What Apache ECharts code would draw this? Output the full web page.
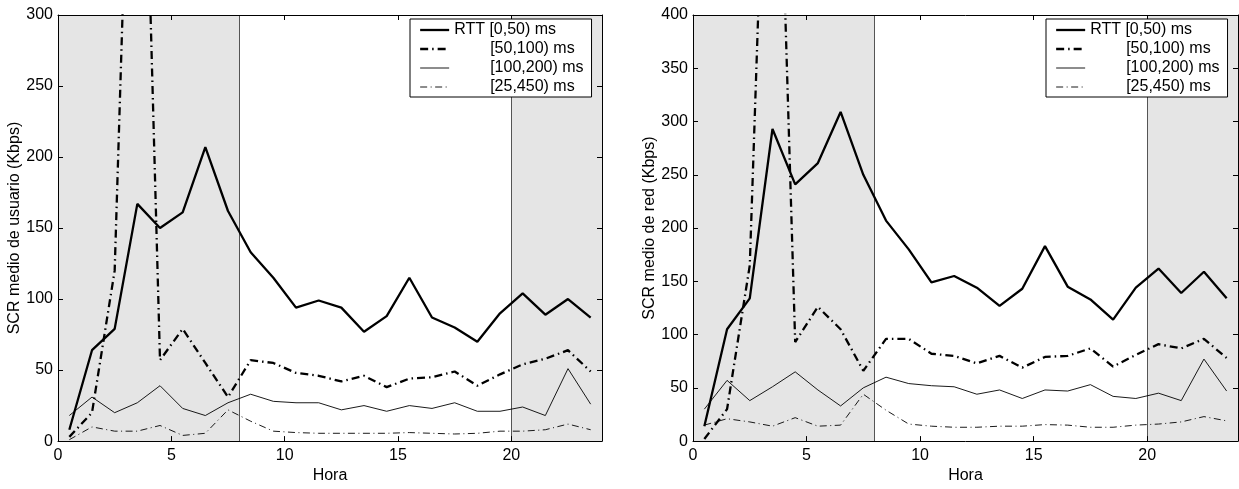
<!DOCTYPE html>
<html>
<head>
<meta charset="utf-8">
<script src="https://cdn.jsdelivr.net/npm/echarts@6/dist/echarts.min.js"></script>
<style>html,body{margin:0;padding:0;background:#fff;}#c{width:1239px;height:489px;}</style>
</head>
<body>
<div id="c"></div>
<script>
// ---- data ----
const hours = [0.5,1.5,2.5,3.5,4.5,5.5,6.5,7.5,8.5,9.5,10.5,11.5,12.5,13.5,14.5,15.5,16.5,17.5,18.5,19.5,20.5,21.5,22.5,23.5];
const seriesNames = ['RTT [0,50) ms', '[50,100) ms', '[100,200) ms', '[25,450) ms'];
// left panel: SCR medio de usuario (Kbps)
const usrRtt0   = [8, 64, 79, 167, 150, 161, 207, 162, 133, 115, 94, 99, 94, 77, 88, 115, 87, 80, 70, 90, 104, 89, 100, 87];
const usrRtt50  = [3, 20, 120, 640, 57, 79, 55, 31, 57, 55, 48, 46, 42, 46, 38, 44, 45, 49, 39, 47, 54, 58, 64, 49];
const usrRtt100 = [18, 31, 20, 27, 39, 23, 18, 27, 33, 28, 27, 27, 22, 25, 21, 25, 23, 27, 21, 21, 24, 18, 51, 26];
const usrRtt25  = [1, 10, 7, 7, 11, 4, 5.5, 22, 14, 7, 6, 5.5, 5.5, 5.5, 5.5, 6, 5.5, 5, 5.5, 7, 7, 8, 12, 8];
// right panel: SCR medio de red (Kbps)
const netRtt0   = [14, 105, 134, 293, 241, 261, 309, 250, 207, 180, 149, 155, 144, 127, 143, 183, 145, 133, 114, 144, 162, 139, 159, 134];
const netRtt50  = [2, 30, 165, 800, 93, 126, 105, 66, 96, 96, 82, 80, 73, 80, 69, 79, 80, 87, 70, 81, 91, 87, 96, 78];
const netRtt100 = [30, 57, 38, 51, 65, 48, 33, 50, 60, 54, 52, 51, 44, 48, 40, 48, 47, 53, 42, 40, 45, 38, 77, 47];
const netRtt25  = [15, 21, 18, 14, 22, 14, 15, 44, 29, 16, 14, 13, 13, 14, 14, 15.5, 15, 13, 13, 15, 16, 18, 23, 19];
// shaded (night) intervals and axis ranges
const shadedRanges = [[0, 8], [20, 24]];
const shadeEdges = [8, 20];
const xRange = [0, 24];
const usrYRange = [0, 300];
const netYRange = [0, 400];

const FONT = '"Liberation Sans", Arial, Helvetica, sans-serif';
const styles = [
  {color: '#000', width: 2.3, type: 'solid'},
  {color: '#000', width: 2.3, type: [8, 4, 1.5, 4]},
  {color: '#000', width: 0.9, type: 'solid'},
  {color: '#000', width: 0.9, type: [7, 3.5, 1, 3.5]}
];

function pairs(vals) { return hours.map((h, i) => [h, vals[i]]); }

function xAxes(grid) {
  const base = {
    gridIndex: grid, type: 'value', min: xRange[0], max: xRange[1], interval: 5, z: 10,
    axisLine: {show: true, onZero: false, lineStyle: {color: '#000', width: 1}},
    axisTick: {show: true, inside: true, length: 5, lineStyle: {color: '#000'}},
    splitLine: {show: false}
  };
  return [
    Object.assign({}, base, {
      position: 'bottom',
      axisLabel: {show: true, color: '#000', fontSize: 16, fontFamily: FONT, margin: 6, showMaxLabel: false},
      name: 'Hora', nameLocation: 'middle', nameGap: 22,
      nameTextStyle: {color: '#000', fontSize: 16, fontFamily: FONT}
    }),
    Object.assign({}, base, {position: 'top', axisLabel: {show: false}})
  ];
}
function yAxes(grid, range, name, gap) {
  const base = {
    gridIndex: grid, type: 'value', min: range[0], max: range[1], interval: 50, z: 10,
    axisLine: {show: true, onZero: false, lineStyle: {color: '#000', width: 1}},
    axisTick: {show: true, inside: true, length: 5, lineStyle: {color: '#000'}},
    splitLine: {show: false}
  };
  return [
    Object.assign({}, base, {
      position: 'left',
      axisLabel: {show: true, color: '#000', fontSize: 16, fontFamily: FONT, margin: 5},
      name: name, nameLocation: 'middle', nameGap: gap,
      nameTextStyle: {color: '#000', fontSize: 16, fontFamily: FONT}
    }),
    Object.assign({}, base, {position: 'right', axisLabel: {show: false}})
  ];
}

function panelSeries(dataArrs, xIdx, yIdx) {
  return dataArrs.map((vals, k) => {
    const s = {
      name: seriesNames[k], type: 'line', xAxisIndex: xIdx, yAxisIndex: yIdx,
      data: pairs(vals), showSymbol: false, symbol: 'none', clip: true,
      lineStyle: styles[k], itemStyle: {color: '#000'}, z: 5 - k, silent: true, animation: false
    };
    if (k === 0) {
      s.markArea = {
        silent: true, z: 1,
        itemStyle: {color: '#e5e5e5', opacity: 1, borderWidth: 0},
        data: shadedRanges.map(r => [{xAxis: r[0]}, {xAxis: r[1]}])
      };
      s.markLine = {
        silent: true, symbol: 'none', z: 2,
        label: {show: false},
        lineStyle: {color: '#555', width: 1, type: 'solid'},
        data: shadeEdges.map(e => ({xAxis: e}))
      };
    }
    return s;
  });
}

function legend(left) {
  return {
    data: seriesNames.map((n, k) => ({
      name: n,
      itemStyle: {opacity: 0, borderWidth: 0},
      lineStyle: {color: '#000', width: styles[k].width, type: styles[k].type, opacity: 1}
    })),
    orient: 'vertical', left: left, top: 19, z: 20,
    backgroundColor: '#fff', borderColor: '#000', borderWidth: 1,
    padding: [3, 8, 2, 9], itemWidth: 29, itemHeight: 14, itemGap: 3,
    selectedMode: false,
    itemStyle: {opacity: 0, borderWidth: 0},
    textStyle: {color: '#000', fontSize: 16, fontFamily: FONT, lineHeight: 16,
      rich: {s: {width: 36, fontSize: 16, lineHeight: 16}}},
    formatter: n => n.indexOf('RTT') === 0 ? n : '{s| }' + n
  };
}

const chart = echarts.init(document.getElementById('c'), null, {renderer: 'canvas'});
chart.setOption({
  animation: false,
  backgroundColor: '#fff',
  grid: [
    {left: 58, right: 637, top: 15, bottom: 46, show: false},
    {left: 693, right: 1, top: 15, bottom: 46, show: false}
  ],
  xAxis: [...xAxes(0), ...xAxes(1)],
  yAxis: [...yAxes(0, usrYRange, 'SCR medio de usuario (Kbps)', 34), ...yAxes(1, netYRange, 'SCR medio de red (Kbps)', 34)],
  legend: [legend(410), legend(1046)],
  series: [
    ...panelSeries([usrRtt0, usrRtt50, usrRtt100, usrRtt25], 0, 0),
    ...panelSeries([netRtt0, netRtt50, netRtt100, netRtt25], 2, 2)
  ]
});
</script>
</body>
</html>
